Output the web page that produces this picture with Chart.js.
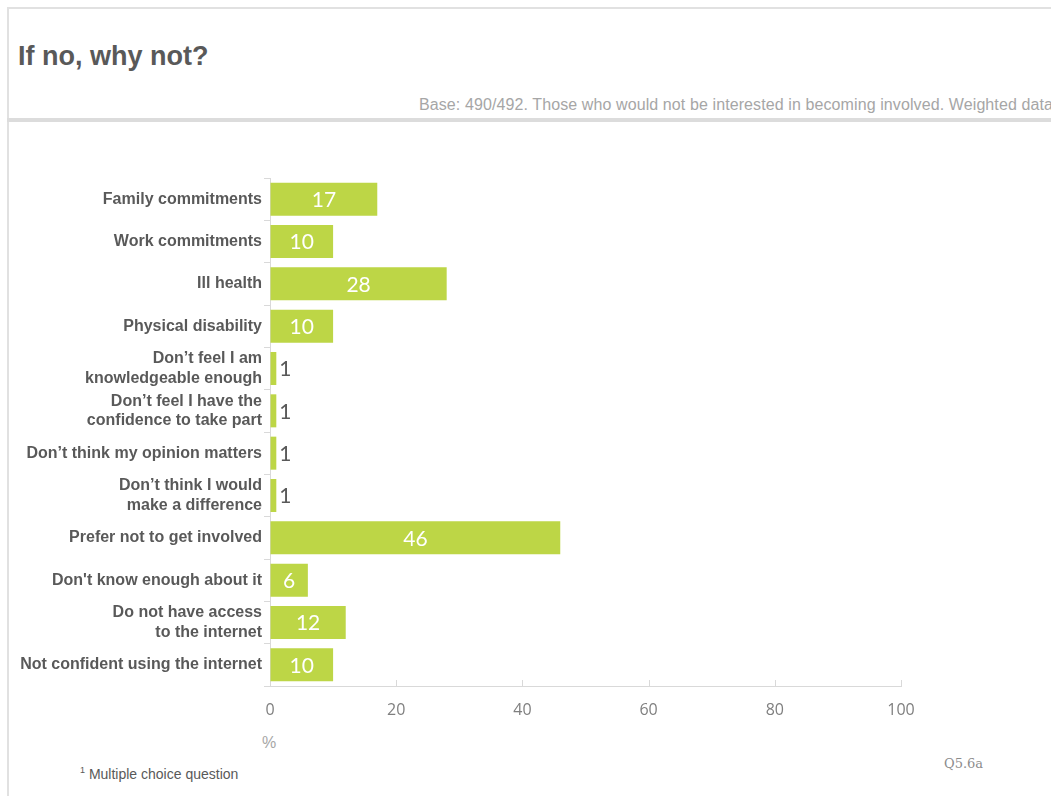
<!DOCTYPE html>
<html>
<head>
<meta charset="utf-8">
<script src="https://cdn.jsdelivr.net/npm/chart.js@4.4.1/dist/chart.umd.min.js"></script>
<style>
  html, body { margin: 0; padding: 0; background: #fff; }
  body { width: 1051px; height: 796px; position: relative; overflow: hidden; font-family: "Liberation Sans", Arial, sans-serif; }
  .frame-top { position: absolute; left: 7px; top: 7px; right: 0; height: 2px; background: #e1e1e1; }
  .frame-left { position: absolute; left: 7px; top: 7px; width: 2px; bottom: 0; background: #e1e1e1; }
  .frame-rule { position: absolute; left: 7px; top: 118px; right: 0; height: 4px; background: #dcdcdc; }
  .title { position: absolute; left: 18px; top: 41px; font-size: 27px; font-weight: bold; color: #595959; }
  .base { position: absolute; left: 419px; top: 96px; font-size: 16px; letter-spacing: 0.1px; color: #a6a6a6; white-space: nowrap; }
  .pct { position: absolute; left: 262px; top: 734px; font-size: 16px; color: #a6a6a6; }
  .note { position: absolute; left: 80px; top: 765px; font-size: 14px; color: #595959; }
  .note sup { font-size: 9px; }
  .qref { position: absolute; left: 944px; top: 756px; font-size: 13px; color: #8c8c8c; font-family: "DejaVu Serif", serif; }
  #wrap { position: absolute; left: 0; top: 0; width: 1051px; height: 796px; }
</style>
</head>
<body>
<div class="frame-top"></div>
<div class="frame-left"></div>
<div class="frame-rule"></div>
<div class="title">If no, why not?</div>
<div class="base">Base: 490/492. Those who would not be interested in becoming involved. Weighted data</div>
<div class="pct">%</div>
<div class="note"><sup>1</sup> Multiple choice question</div>
<div class="qref">Q5.6a</div>
<div id="wrap"><canvas id="chartWhyNot" width="1051" height="796"></canvas></div>
<script>
// reasons (multi-line labels as arrays)
const reasons = [
  'Family commitments',
  'Work commitments',
  'Ill health',
  'Physical disability',
  ['Don\u2019t feel I am', 'knowledgeable enough'],
  ['Don\u2019t feel I have the', 'confidence to take part'],
  'Don\u2019t think my opinion matters',
  ['Don\u2019t think I would', 'make a difference'],
  'Prefer not to get involved',
  'Don\'t know enough about it',
  ['Do not have access', 'to the internet'],
  'Not confident using the internet'
];
const percents = [17, 10, 28, 10, 1, 1, 1, 1, 46, 6, 12, 10];
const xTicks = [0, 20, 40, 60, 80, 100];

const LIME = '#bdd646';
const AXIS_GREY = '#d9d9d9';

// value labels: white inside the bar, grey just outside when the bar is too thin
const valueLabels = {
  id: 'valueLabels',
  afterDatasetsDraw(chart) {
    const ctx = chart.ctx;
    const meta = chart.getDatasetMeta(0);
    ctx.save();
    ctx.font = '21px Lato, "Open Sans", sans-serif';
    ctx.textBaseline = 'middle';
    meta.data.forEach((bar, i) => {
      const v = percents[i];
      if (bar.x - bar.base > 25) {
        ctx.fillStyle = '#ffffff';
        ctx.textAlign = 'center';
        ctx.fillText(v, (bar.x + bar.base) / 2, bar.y + 1);
      } else {
        ctx.fillStyle = '#595959';
        ctx.textAlign = 'left';
        ctx.fillText(v, bar.x + 3, bar.y + 1);
      }
    });
    ctx.restore();
  }
};

// short tick marks pointing up from the x axis line
const innerTicks = {
  id: 'innerTicks',
  afterDraw(chart) {
    const ctx = chart.ctx;
    const xs = chart.scales.x;
    const y0 = chart.chartArea.bottom;
    ctx.save();
    ctx.strokeStyle = AXIS_GREY;
    ctx.lineWidth = 1;
    xTicks.forEach(t => {
      if (t === 0) return;
      const px = Math.round(xs.getPixelForValue(t)) + 0.5;
      ctx.beginPath();
      ctx.moveTo(px, y0);
      ctx.lineTo(px, y0 - 6);
      ctx.stroke();
    });
    ctx.restore();
  }
};

const ctxWhy = document.getElementById('chartWhyNot').getContext('2d');
new Chart(ctxWhy, {
  type: 'bar',
  data: {
    labels: reasons,
    datasets: [{
      data: percents,
      backgroundColor: LIME,
      borderWidth: 0,
      barPercentage: 0.78,
      categoryPercentage: 1
    }]
  },
  options: {
    indexAxis: 'y',
    responsive: false,
    maintainAspectRatio: false,
    animation: false,
    layout: { padding: { left: 0, top: 178, right: 150, bottom: 70 } },
    plugins: {
      legend: { display: false },
      tooltip: { enabled: false }
    },
    scales: {
      x: {
        min: 0,
        max: 100,
        afterBuildTicks(scale) { scale.ticks = xTicks.map(v => ({ value: v })); },
        afterFit(scale) { scale.height = 40; },
        grid: { display: true, drawOnChartArea: false, drawTicks: false },
        border: { display: true, color: AXIS_GREY, width: 1 },
        ticks: {
          padding: 15,
          color: '#7f7f7f',
          font: { family: '"Open Sans", sans-serif', size: 16 }
        }
      },
      y: {
        afterFit(scale) { scale.width = 270; },
        grid: { display: true, drawOnChartArea: false, tickLength: 6, color: AXIS_GREY, offset: true },
        border: { display: true, color: AXIS_GREY, width: 1 },
        ticks: {
          padding: 2,
          color: '#595959',
          font: { family: '"Liberation Sans", Arial, sans-serif', size: 16, weight: 'bold', lineHeight: 1.2 }
        }
      }
    }
  },
  plugins: [valueLabels, innerTicks]
});
</script>
</body>
</html>
